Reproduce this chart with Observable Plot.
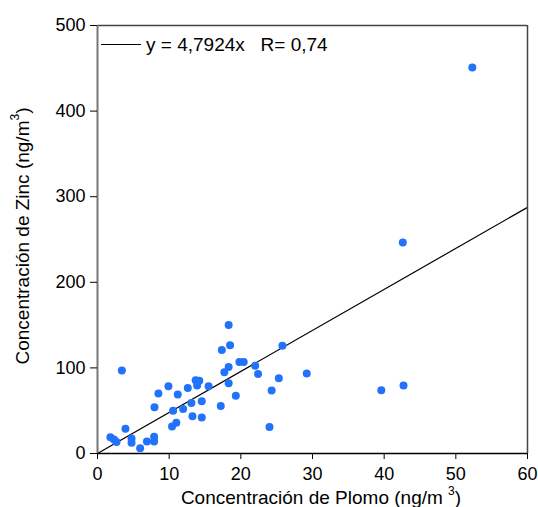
<!DOCTYPE html>
<html>
<head>
<meta charset="utf-8">
<script src="https://cdn.jsdelivr.net/npm/d3@7"></script>
<script src="https://cdn.jsdelivr.net/npm/@observablehq/plot@0.6"></script>
<style>
  html, body { margin: 0; padding: 0; background: #fff; }
  #chart { width: 538px; height: 507px; }
  svg { font-family: "Liberation Sans", Arial, sans-serif; }
</style>
</head>
<body>
<div id="chart"></div>
<script>
// Concentración de Plomo (ng/m3)
const plomo = [18.3, 17.35, 18.5, 3.4, 25.8, 19.8, 20.4, 22.0, 18.3, 17.7, 22.4, 29.2, 25.3,
  13.7, 14.2, 13.9, 18.3, 9.9, 12.6, 15.5, 11.2, 8.5, 24.3, 19.3, 14.55, 13.1, 7.95, 17.2,
  11.95, 10.55, 13.25, 14.55, 11.0, 10.4, 24.0, 3.9, 1.8, 2.3, 2.65, 4.75, 4.75, 7.9, 7.9,
  6.9, 5.95, 42.6, 39.6, 42.7, 52.3];
// Concentración de Zinc (ng/m3)
const zinc = [150, 121, 126.5, 97, 126, 107, 107, 102.5, 101, 95, 93, 93.5, 88,
  85.5, 85, 79.5, 82, 78.5, 76.5, 78.5, 69, 70, 73.5, 67.5, 61, 59, 54, 55.5,
  52, 50, 43.5, 42, 36, 31.5, 31, 29, 19, 16.5, 13.5, 17.5, 12.5, 19.5, 14,
  14, 6, 246.5, 74, 79.5, 451];
const slope = 4.7924;
const rText = "0,74";
const xTicks = [0, 10, 20, 30, 40, 50, 60];
const yTicks = [0, 100, 200, 300, 400, 500];
const xDomain = [0, 60];
const yDomain = [0, 500];

const points = plomo.map((p, i) => ({x: p, y: zinc[i]}));
const fitLine = xDomain.map(x => ({x, y: slope * x}));

const W = 538, H = 507;
const mL = 97, mR = 11, mT = 25, mB = 54;

const plot = Plot.plot({
  width: W,
  height: H,
  marginLeft: mL,
  marginRight: mR,
  marginTop: mT,
  marginBottom: mB,
  style: {fontFamily: '"Liberation Sans", Arial, sans-serif', fontSize: "18px", color: "#000", background: "#fff"},
  x: {domain: xDomain, ticks: xTicks, label: null},
  y: {domain: yDomain, ticks: yTicks, label: null},
  marks: [
    Plot.line(fitLine, {x: "x", y: "y", stroke: "#000", strokeWidth: 1.2}),
    Plot.dot(points, {x: "x", y: "y", r: 4, fill: "#2272fb", stroke: "none"}),
    Plot.ruleX([xDomain[1]], {stroke: "#444", strokeWidth: 1.5}),
    Plot.ruleY([yDomain[1]], {stroke: "#444", strokeWidth: 1.3}),
    Plot.ruleX([xDomain[0]], {stroke: "#777", strokeWidth: 2}),
    Plot.ruleY([yDomain[0]], {stroke: "#000", strokeWidth: 1.5}),
    Plot.axisX({ticks: xTicks, tickSize: 6, tickPadding: 8, label: null, fontSize: 18}),
    Plot.axisY({ticks: yTicks, tickSize: 7, tickPadding: 5, label: null, fontSize: 18})
  ]
});
document.getElementById("chart").appendChild(plot);

const svg = d3.select(plot);
const font = '"Liberation Sans", Arial, sans-serif';

// Legend (inside plot area, top-left)
const lg = svg.append("g").attr("text-anchor", "start");
lg.append("line").attr("x1", 101).attr("x2", 141).attr("y1", 44.5).attr("y2", 44.5)
  .attr("stroke", "#000").attr("stroke-width", 1);
lg.append("text").attr("x", 146).attr("y", 51).attr("text-anchor", "start")
  .attr("font-family", font).attr("font-size", 19).attr("fill", "#000")
  .attr("xml:space", "preserve").style("white-space", "pre")
  .text(`y = ${String(slope).replace(".", ",")}x   R= ${rText}`);

// X axis title
const xt = svg.append("text").attr("x", 321).attr("y", 504)
  .attr("text-anchor", "middle").attr("font-family", font).attr("font-size", 19).attr("fill", "#000");
xt.append("tspan").text("Concentración de Plomo (ng/m ");
xt.append("tspan").attr("dy", -9).attr("font-size", 12).text("3");
xt.append("tspan").attr("dy", 9).text(")");

// Y axis title
const yt = svg.append("text").attr("transform", "translate(29,236) rotate(-90)")
  .attr("text-anchor", "middle").attr("font-family", font).attr("font-size", 19).attr("fill", "#000");
yt.append("tspan").text("Concentración de Zinc (ng/m");
yt.append("tspan").attr("dy", -10).attr("font-size", 12).text("3");
yt.append("tspan").attr("dy", 10).text(")");
</script>
</body>
</html>
